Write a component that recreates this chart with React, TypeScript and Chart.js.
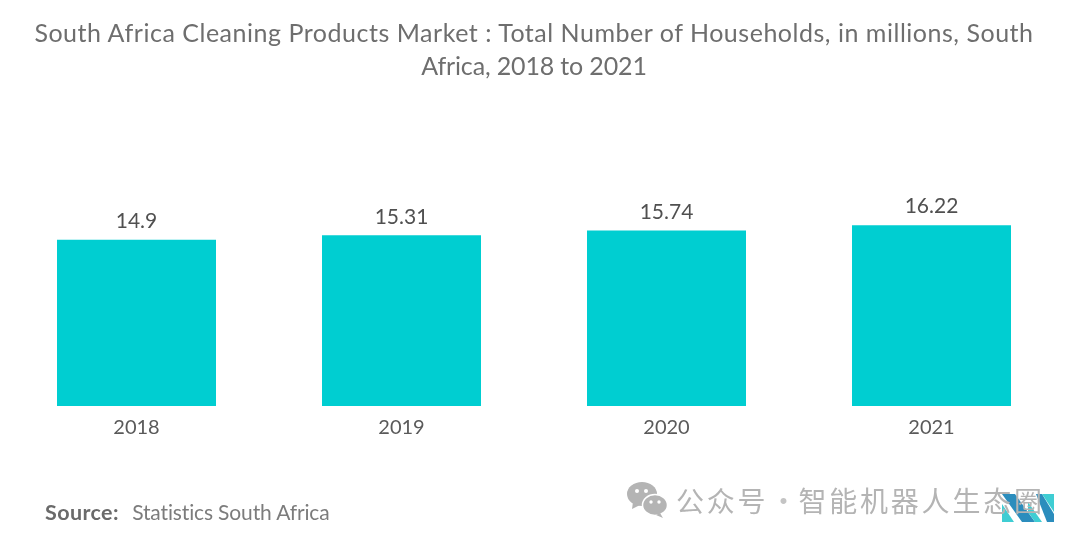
import { useEffect, useRef } from 'react';
import { Chart, registerables } from 'chart.js';

Chart.register(...registerables);

const years = ['2018', '2019', '2020', '2021'];
const households = [14.9, 15.31, 15.74, 16.22];
const valueLabels = ['14.9', '15.31', '15.74', '16.22'];

// Draws the number above each bar
const barValueLabels = {
  id: 'barValueLabels',
  afterDatasetsDraw(chart: Chart) {
    const { ctx } = chart;
    ctx.save();
    ctx.fillStyle = '#505050';
    ctx.font = '21px Lato';
    ctx.textAlign = 'center';
    ctx.textBaseline = 'bottom';
    chart.getDatasetMeta(0).data.forEach((bar, i) => {
      ctx.fillText(valueLabels[i], bar.x, bar.y - 8);
    });
    ctx.restore();
  },
};

const titleLine = {
  position: 'absolute',
  left: 0,
  width: 1068,
  textAlign: 'center',
  fontFamily: 'Lato',
  fontSize: 25,
  lineHeight: '33px',
  color: '#6e6e6e',
  whiteSpace: 'nowrap',
} as const;

export default function App() {
  const canvasRef = useRef<HTMLCanvasElement>(null);

  useEffect(() => {
    if (!canvasRef.current) return;
    const chart = new Chart(canvasRef.current, {
      type: 'bar',
      data: {
        labels: years,
        datasets: [{
          data: households,
          backgroundColor: '#00ced1',
          categoryPercentage: 0.6,
          barPercentage: 1,
        }],
      },
      options: {
        animation: false,
        responsive: false,
        layout: { padding: { left: 4, right: 16, top: 183, bottom: 102 } },
        scales: {
          x: {
            grid: { display: false },
            border: { display: false },
            ticks: { color: '#5a5a5a', font: { family: 'Lato', size: 20 }, padding: 2, maxRotation: 0 },
          },
          y: { display: false, min: 0, max: 20 },
        },
        plugins: {
          legend: { display: false },
          tooltip: { enabled: false },
        },
      },
      plugins: [barValueLabels],
    });
    return () => chart.destroy();
  }, []);

  return (
    <div style={{ position: 'absolute', left: 0, top: 0, width: 1080, height: 544, background: '#fff', overflow: 'hidden' }}>
      <canvas ref={canvasRef} width={1080} height={544} style={{ display: 'block' }} />
      <div style={{ ...titleLine, top: 16, letterSpacing: 0.52 }}>
        South Africa Cleaning Products Market : Total Number of Households, in millions, South
      </div>
      <div style={{ ...titleLine, top: 49, letterSpacing: -0.15 }}>
        Africa, 2018 to 2021
      </div>
      <div style={{ position: 'absolute', left: 45, top: 498, fontFamily: 'Lato', fontSize: 21, lineHeight: '27px', color: '#7c7c7c', whiteSpace: 'nowrap' }}>
        <b style={{ color: '#6a6a6a', fontSize: 21.5, marginRight: 8, letterSpacing: 0.4 }}>Source:</b>
        <span style={{ letterSpacing: -0.14 }}> Statistics South Africa</span>
      </div>
      <svg style={{ position: 'absolute', left: 626, top: 482 }} width={42} height={36} viewBox="0 0 42 36">
        <ellipse cx="16" cy="12" rx="15" ry="12" fill="#b4b4b4" />
        <path d="M7 20 L6 27 L14 23 Z" fill="#b4b4b4" />
        <ellipse cx="29" cy="23" rx="12.5" ry="10.5" fill="#b4b4b4" stroke="#fff" strokeWidth="1.5" />
        <path d="M34 31 L37 36 L30 33 Z" fill="#b4b4b4" />
        <circle cx="11" cy="9" r="2" fill="#fff" />
        <circle cx="20" cy="9" r="2" fill="#fff" />
        <circle cx="25" cy="20" r="1.7" fill="#fff" />
        <circle cx="33" cy="20" r="1.7" fill="#fff" />
      </svg>
      <svg style={{ position: 'absolute', left: 1002, top: 494 }} width={52} height={28} viewBox="0 0 52 28">
        <path d="M0 10 L12 28 H0 Z" fill="#3fcdd3" />
        <path d="M0 0 H13 L33 28 H20 Z" fill="#2b8dbd" />
        <path d="M26 8 L40 28 H33 L26 18 Z" fill="#3fcdd3" />
        <path d="M34 0 H40 L52 20 V28 H45 Z" fill="#2b8dbd" />
        <path d="M40 0 H52 V18 Z" fill="#3fcdd3" />
      </svg>
      <div style={{ position: 'absolute', left: 676, top: 483, fontFamily: '"Noto Sans CJK SC"', fontSize: 28, lineHeight: '34px', letterSpacing: 2.8, color: '#b4b4b4', whiteSpace: 'nowrap' }}>
        公众号<span style={{ display: 'inline-block', width: 30, textAlign: 'center', letterSpacing: 0, color: '#c4c4c4' }}>·</span>智能机器人生态圈
      </div>
    </div>
  );
}
